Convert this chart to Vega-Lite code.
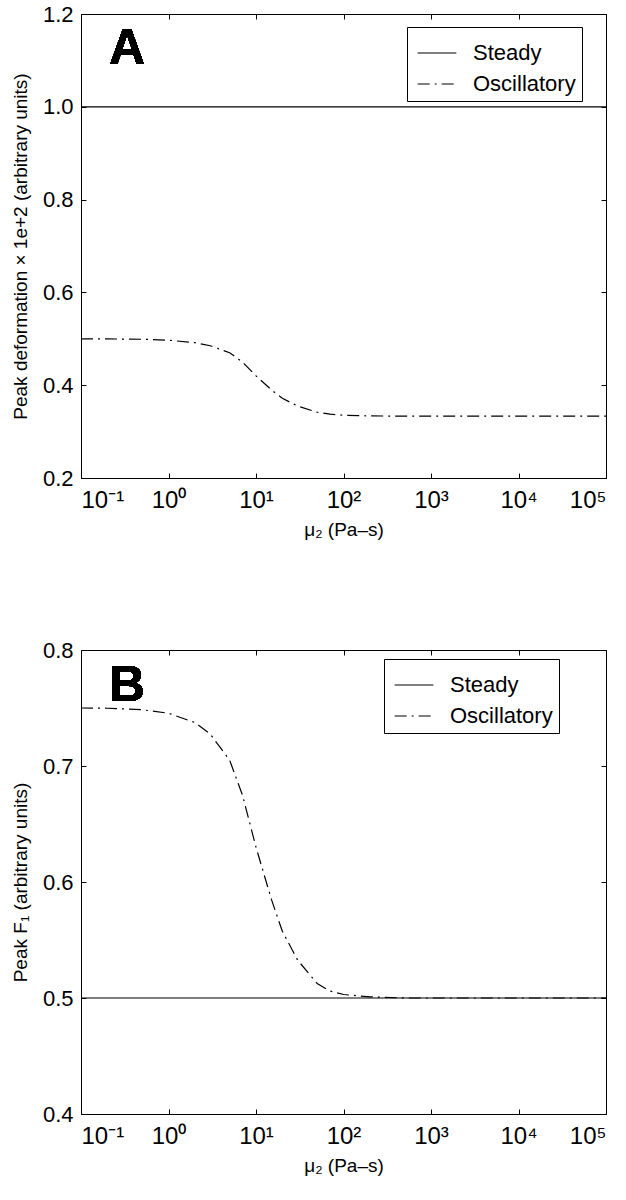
{
  "$schema": "https://vega.github.io/schema/vega-lite/v6.json",
  "background": "white",
  "padding": {"top": 2, "left": 10, "right": 0, "bottom": 0},
  "spacing": 98,
  "config": {
    "font": "Liberation Sans",
    "view": {"stroke": "black", "strokeWidth": 1},
    "axis": {
      "grid": false,
      "domain": false,
      "tickColor": "black",
      "tickSize": -5,
      "tickWidth": 1,
      "labelColor": "black",
      "titleColor": "black",
      "labelFont": "Liberation Sans",
      "titleFont": "Liberation Sans",
      "titleFontWeight": "normal"
    },
    "legend": {
      "strokeColor": "black",
      "fillColor": "white",
      "padding": 6,
      "symbolType": "stroke",
      "symbolSize": 1500,
      "symbolStrokeWidth": 1.2,
      "symbolStrokeColor": "black",
      "symbolOpacity": 1,
      "symbolOffset": 4,
      "labelOffset": 16,
      "labelFontSize": 22,
      "labelColor": "black",
      "labelFont": "Liberation Sans",
      "rowPadding": 0,
      "title": null
    }
  },
  "datasets": {
    "a": [
      {"mu": 0.1, "v": 1.0, "s": "Steady"},
      {"mu": 100000, "v": 1.0, "s": "Steady"},
      {"mu": 0.1, "v": 0.5, "s": "Oscillatory"},
      {"mu": 0.2, "v": 0.4998, "s": "Oscillatory"},
      {"mu": 0.5, "v": 0.499, "s": "Oscillatory"},
      {"mu": 1, "v": 0.497, "s": "Oscillatory"},
      {"mu": 2, "v": 0.4917, "s": "Oscillatory"},
      {"mu": 3, "v": 0.485, "s": "Oscillatory"},
      {"mu": 5, "v": 0.47, "s": "Oscillatory"},
      {"mu": 7, "v": 0.45, "s": "Oscillatory"},
      {"mu": 10, "v": 0.42, "s": "Oscillatory"},
      {"mu": 15, "v": 0.39, "s": "Oscillatory"},
      {"mu": 20, "v": 0.3717, "s": "Oscillatory"},
      {"mu": 30, "v": 0.355, "s": "Oscillatory"},
      {"mu": 50, "v": 0.3417, "s": "Oscillatory"},
      {"mu": 70, "v": 0.3375, "s": "Oscillatory"},
      {"mu": 100, "v": 0.3353, "s": "Oscillatory"},
      {"mu": 200, "v": 0.3338, "s": "Oscillatory"},
      {"mu": 500, "v": 0.3333, "s": "Oscillatory"},
      {"mu": 100000, "v": 0.3333, "s": "Oscillatory"}
    ],
    "b": [
      {"mu": 0.1, "v": 0.5, "s": "Steady"},
      {"mu": 100000, "v": 0.5, "s": "Steady"},
      {"mu": 0.1, "v": 0.75, "s": "Oscillatory"},
      {"mu": 0.2, "v": 0.7498, "s": "Oscillatory"},
      {"mu": 0.5, "v": 0.7485, "s": "Oscillatory"},
      {"mu": 1, "v": 0.7455, "s": "Oscillatory"},
      {"mu": 2, "v": 0.7375, "s": "Oscillatory"},
      {"mu": 3, "v": 0.7275, "s": "Oscillatory"},
      {"mu": 5, "v": 0.705, "s": "Oscillatory"},
      {"mu": 7, "v": 0.675, "s": "Oscillatory"},
      {"mu": 10, "v": 0.63, "s": "Oscillatory"},
      {"mu": 15, "v": 0.585, "s": "Oscillatory"},
      {"mu": 20, "v": 0.5575, "s": "Oscillatory"},
      {"mu": 30, "v": 0.5325, "s": "Oscillatory"},
      {"mu": 50, "v": 0.5125, "s": "Oscillatory"},
      {"mu": 70, "v": 0.506, "s": "Oscillatory"},
      {"mu": 100, "v": 0.503, "s": "Oscillatory"},
      {"mu": 200, "v": 0.501, "s": "Oscillatory"},
      {"mu": 500, "v": 0.5, "s": "Oscillatory"},
      {"mu": 100000, "v": 0.5, "s": "Oscillatory"}
    ]
  },
  "vconcat": [
    {
      "width": 525,
      "height": 464,
      "data": {"name": "a"},
      "layer": [
        {
          "mark": {"type": "line", "color": "black", "strokeWidth": 1.2},
          "encoding": {
            "x": {"field": "mu", "type": "quantitative",
              "scale": {"type": "log", "domain": [0.1, 100000], "nice": false},
              "axis": {"orient": "bottom", "values": [0.1, 1, 10, 100, 1000, 10000, 100000],
                "labelExpr": "'10' + ['⁻¹','⁰','¹','²','³','⁴','⁵'][round(log(datum.value)/LN10)+1]",
                "labelFontSize": 24, "labelPadding": 15, "title": "μ₂ (Pa–s)", "titleFontSize": 19, "titlePadding": 8}},
            "y": {"field": "v", "type": "quantitative",
              "scale": {"domain": [0.2, 1.2], "nice": false, "zero": false},
              "axis": {"orient": "left", "values": [0.2, 0.4, 0.6, 0.8, 1.0, 1.2], "format": ".1f",
                "labelFontSize": 22, "labelPadding": 13, "title": "Peak deformation × 1e+2 (arbitrary units)", "titleFontSize": 19, "titlePadding": 12}},
            "strokeDash": {"field": "s", "type": "nominal",
              "scale": {"domain": ["Steady", "Oscillatory"], "range": [[1, 0], [12, 5, 2, 5]]},
              "legend": {"orient": "none", "legendX": 326, "legendY": 13}}
          }
        },
        {
          "mark": {"type": "point", "opacity": 0},
          "encoding": {
            "x": {"field": "mu", "type": "quantitative",
              "scale": {"type": "log", "domain": [0.1, 100000], "nice": false},
              "axis": {"orient": "top", "values": [0.1, 1, 10, 100, 1000, 10000, 100000], "labels": false, "title": null}},
            "y": {"field": "v", "type": "quantitative",
              "scale": {"domain": [0.2, 1.2], "nice": false, "zero": false},
              "axis": {"orient": "right", "values": [0.2, 0.4, 0.6, 0.8, 1.0, 1.2], "labels": false, "title": null}}
          }
        },
        {
          "mark": {"type": "text", "text": "A", "fontSize": 50, "fontWeight": "bold", "align": "left", "baseline": "alphabetic", "color": "black"},
          "encoding": {
            "x": {"datum": 0.209, "type": "quantitative", "axis": null},
            "y": {"datum": 1.092, "type": "quantitative", "axis": null}
          }
        }
      ]
    },
    {
      "width": 525,
      "height": 464,
      "data": {"name": "b"},
      "layer": [
        {
          "mark": {"type": "line", "color": "black", "strokeWidth": 1.2},
          "encoding": {
            "x": {"field": "mu", "type": "quantitative",
              "scale": {"type": "log", "domain": [0.1, 100000], "nice": false},
              "axis": {"orient": "bottom", "values": [0.1, 1, 10, 100, 1000, 10000, 100000],
                "labelExpr": "'10' + ['⁻¹','⁰','¹','²','³','⁴','⁵'][round(log(datum.value)/LN10)+1]",
                "labelFontSize": 24, "labelPadding": 15, "title": "μ₂ (Pa–s)", "titleFontSize": 19, "titlePadding": 8}},
            "y": {"field": "v", "type": "quantitative",
              "scale": {"domain": [0.4, 0.8], "nice": false, "zero": false},
              "axis": {"orient": "left", "values": [0.4, 0.5, 0.6, 0.7, 0.8], "format": ".1f",
                "labelFontSize": 22, "labelPadding": 13, "title": "Peak F₁  (arbitrary units)", "titleFontSize": 19, "titlePadding": 12}},
            "strokeDash": {"field": "s", "type": "nominal",
              "scale": {"domain": ["Steady", "Oscillatory"], "range": [[1, 0], [12, 5, 2, 5]]},
              "legend": {"orient": "none", "legendX": 303, "legendY": 9}}
          }
        },
        {
          "mark": {"type": "point", "opacity": 0},
          "encoding": {
            "x": {"field": "mu", "type": "quantitative",
              "scale": {"type": "log", "domain": [0.1, 100000], "nice": false},
              "axis": {"orient": "top", "values": [0.1, 1, 10, 100, 1000, 10000, 100000], "labels": false, "title": null}},
            "y": {"field": "v", "type": "quantitative",
              "scale": {"domain": [0.4, 0.8], "nice": false, "zero": false},
              "axis": {"orient": "right", "values": [0.4, 0.5, 0.6, 0.7, 0.8], "labels": false, "title": null}}
          }
        },
        {
          "mark": {"type": "text", "text": "B", "fontSize": 50, "fontWeight": "bold", "align": "left", "baseline": "alphabetic", "color": "black"},
          "encoding": {
            "x": {"datum": 0.209, "type": "quantitative", "axis": null},
            "y": {"datum": 0.756, "type": "quantitative", "axis": null}
          }
        }
      ]
    }
  ],
  "resolve": {"scale": {"strokeDash": "independent"}}
}
